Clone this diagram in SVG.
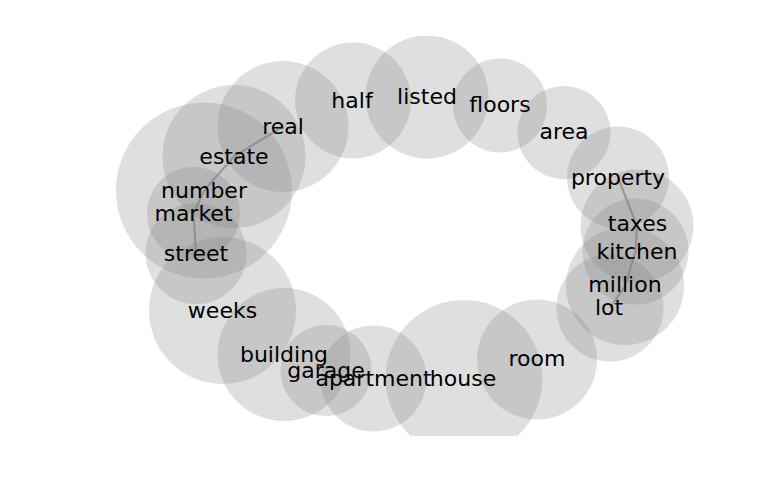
<svg xmlns="http://www.w3.org/2000/svg" width="768" height="500" viewBox="0 0 768 500">
<style>
.c{fill:#808080;fill-opacity:0.25}
.t{font-family:"DejaVu Sans",sans-serif;font-size:22px;fill:#000;text-anchor:middle}
.l{fill:none;stroke:#808080;stroke-opacity:0.65;stroke-width:2.2}
</style>
<defs><clipPath id="ax"><rect x="0" y="36" width="768" height="400"/></clipPath></defs>
<rect width="768" height="500" fill="#fff"/>
<g clip-path="url(#ax)">
<g id="n-real"><circle class="c" cx="283" cy="126.5" r="65.5"/></g>
<g id="n-estate"><circle class="c" cx="234" cy="156.5" r="71.5"/></g>
<g id="n-number"><circle class="c" cx="204" cy="190.5" r="88"/></g>
<g id="n-market"><circle class="c" cx="193.5" cy="213.5" r="46.5"/></g>
<g id="n-street"><circle class="c" cx="196" cy="253.5" r="50.5"/></g>
<g id="n-weeks"><circle class="c" cx="222.5" cy="310.5" r="73.5"/></g>
<g id="n-building"><circle class="c" cx="284" cy="354.5" r="66.5"/></g>
<g id="n-garage"><circle class="c" cx="326" cy="370.5" r="45.5"/></g>
<g id="n-apartment"><circle class="c" cx="373.5" cy="378.5" r="53"/></g>
<g id="n-house"><circle class="c" cx="464" cy="378.5" r="78.5"/></g>
<g id="n-room"><circle class="c" cx="537" cy="359.5" r="60"/></g>
<g id="n-half"><circle class="c" cx="353" cy="100.5" r="58"/></g>
<g id="n-listed"><circle class="c" cx="427" cy="97" r="61.5"/></g>
<g id="n-floors"><circle class="c" cx="500" cy="105.5" r="47"/></g>
<g id="n-area"><circle class="c" cx="564" cy="132.5" r="46.5"/></g>
<g id="n-property"><circle class="c" cx="618" cy="177.5" r="51"/></g>
<g id="n-taxes"><circle class="c" cx="637" cy="226" r="56.5"/></g>
<g id="n-kitchen"><circle class="c" cx="635.5" cy="251.5" r="53"/></g>
<g id="n-million"><circle class="c" cx="625" cy="286" r="59"/></g>
<g id="n-lot"><circle class="c" cx="610" cy="308" r="53.5"/></g>
</g>
<g id="connectors">
<polyline class="l" points="283,126.5 234,156.5 204,190.5 193.5,213.5 196,253.5"/>
<polyline class="l" points="618,177.5 637,226 635.5,251.5 625,286 610,308"/>
</g>
<g id="labels">
<text class="t" x="283" y="133.5">real</text>
<text class="t" x="234" y="163.5">estate</text>
<text class="t" x="204" y="197.5">number</text>
<text class="t" x="193.5" y="220.5">market</text>
<text class="t" x="196" y="260.5">street</text>
<text class="t" x="222.5" y="317.5">weeks</text>
<text class="t" x="284" y="361.5">building</text>
<text class="t" x="326" y="377.5">garage</text>
<text class="t" x="373.5" y="385.5">apartment</text>
<text class="t" x="463" y="385.5">house</text>
<text class="t" x="537" y="366">room</text>
<text class="t" x="352" y="108">half</text>
<text class="t" x="427" y="104">listed</text>
<text class="t" x="500" y="112">floors</text>
<text class="t" x="564" y="139">area</text>
<text class="t" x="618" y="184.5">property</text>
<text class="t" x="637.5" y="231">taxes</text>
<text class="t" x="637" y="258.5">kitchen</text>
<text class="t" x="625" y="292">million</text>
<text class="t" x="609" y="314.5">lot</text>
</g>
</svg>
